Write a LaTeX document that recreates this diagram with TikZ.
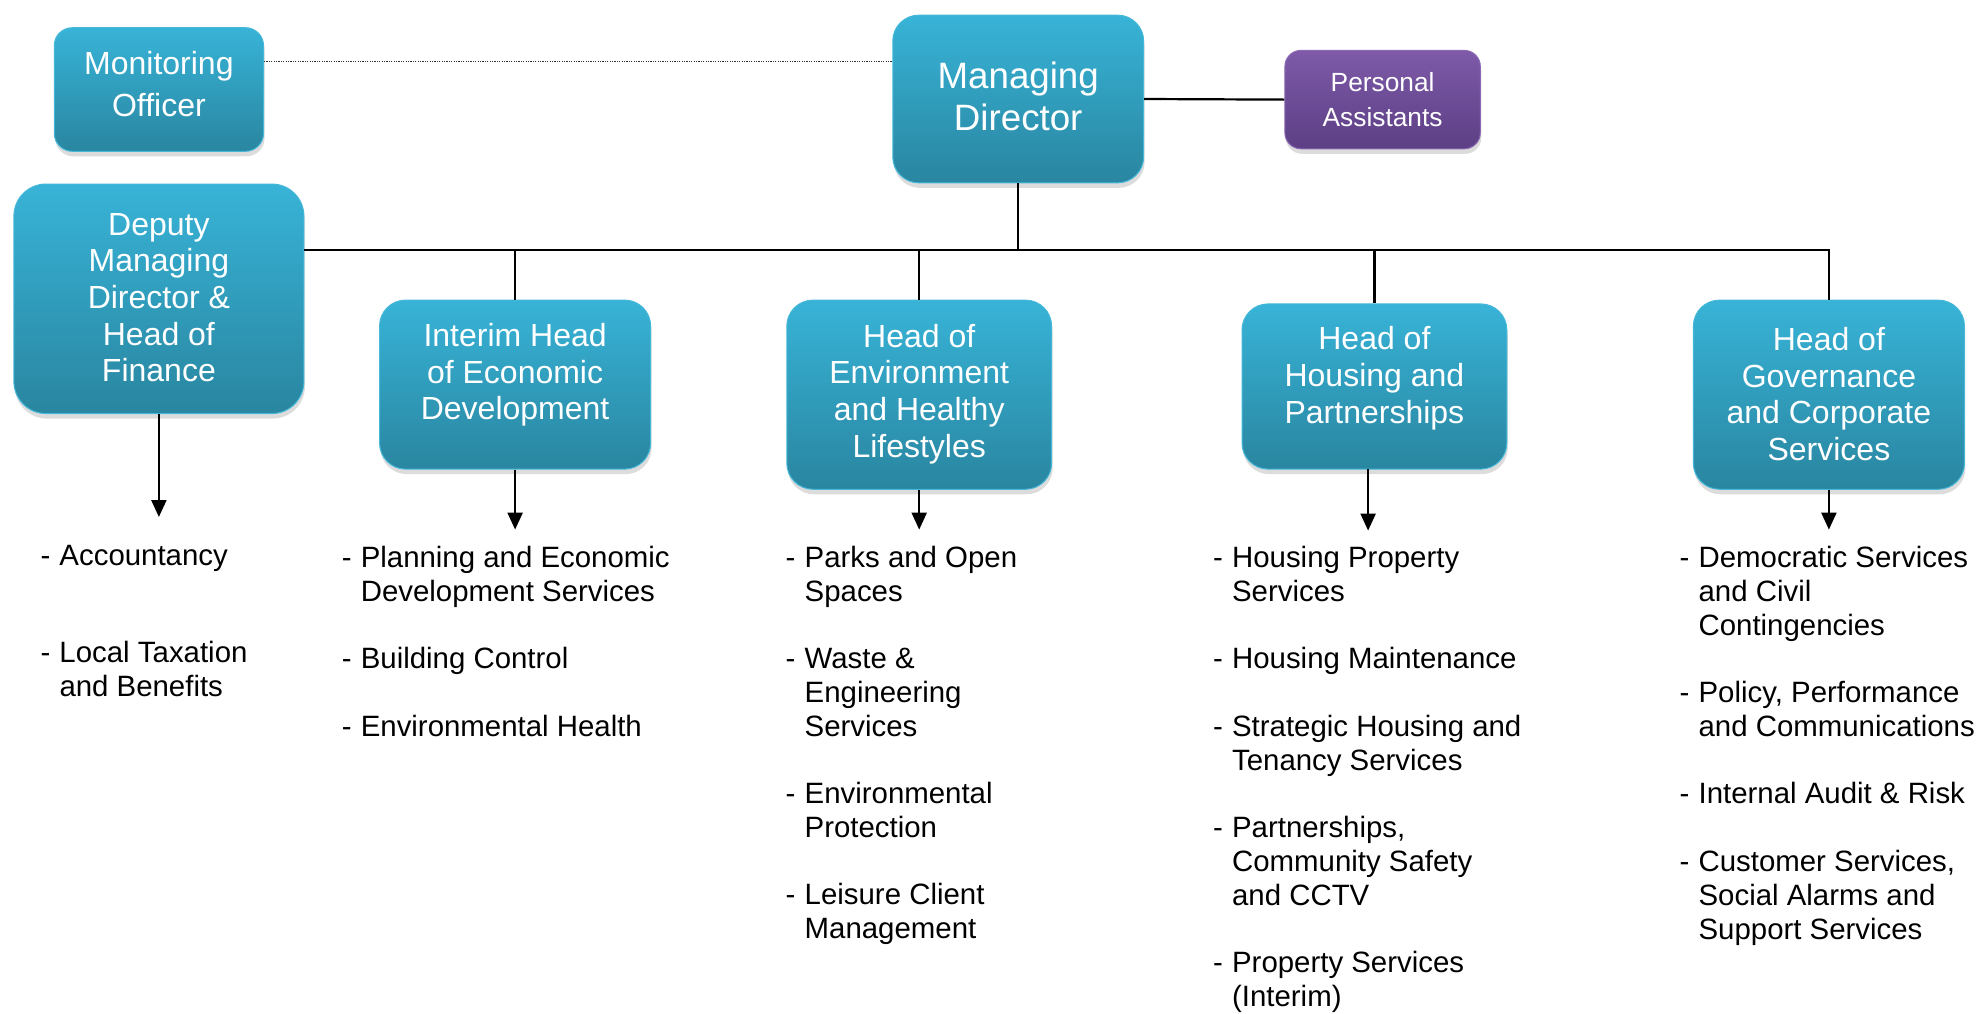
\documentclass[tikz,border=0pt]{standalone}
\usepackage{fontspec}
\setmainfont{Liberation Sans}
\usetikzlibrary{arrows.meta,shadows,calc}
\definecolor{ctop}{HTML}{38B3D7}
\definecolor{cbot}{HTML}{2986A0}
\definecolor{cedge}{HTML}{45B8DA}
\definecolor{ptop}{HTML}{7E5AA8}
\definecolor{pbot}{HTML}{5C3F85}
\definecolor{pedge}{HTML}{8A68B3}
\newcommand\lst[1]{\begin{tabular}[t]{@{}p{19pt}@{}l@{}}#1\end{tabular}}
\begin{document}
\begin{tikzpicture}[x=1pt,y=-1pt,
  box/.style={rounded corners=26pt, top color=ctop, bottom color=cbot, draw=cedge, line width=1pt,
    drop shadow={opacity=0.28, shadow xshift=1pt, shadow yshift=-5pt}, inner sep=0pt},
  pbox/.style={box, top color=ptop, bottom color=pbot, draw=pedge},
  bt/.style={text=white, align=center, inner sep=0pt, font=\fontsize{32}{36.6}\selectfont},
  li/.style={anchor=base west, inner sep=0pt, font=\fontsize{29.4}{33.7}\selectfont},
  ln/.style={line width=2.2pt, black},
  dotln/.style={line width=1.2pt, black!80, dash pattern=on 1.2pt off 1.2pt},
  arr/.style={ln, -{Triangle[width=15pt,length=17pt]}}]
\useasboundingbox (0,0) rectangle (1977,1013);

% boxes
\node[box, minimum width=209.3pt, minimum height=123.6pt, rounded corners=18pt] (mo) at (158.9,89.5) {};
\node[bt, font=\fontsize{32}{41.6}\selectfont] (mo-t) at (158.9,83.8) {Monitoring\\Officer};

\node[box, minimum width=250.9pt, minimum height=167.7pt] (md) at (1018.2,99.0) {};
\node[bt, font=\fontsize{36.7}{41.6}\selectfont] (md-t) at (1018.2,96.5) {Managing\\Director};

\node[pbox, minimum width=195.4pt, minimum height=98.4pt, rounded corners=16pt] (pa) at (1382.6,99.6) {};
\node[bt, font=\fontsize{26.3}{35.3}\selectfont] (pa-t) at (1382.6,99.6) {Personal\\Assistants};

\node[box, minimum width=290pt, minimum height=229.5pt, rounded corners=32pt] (dmd) at (158.9,298.8) {};
\node[bt] (dmd-t) at (158.9,297.6) {Deputy\\Managing\\Director \&\\Head of\\Finance};

\node[box, minimum width=271.1pt, minimum height=169pt] (ied) at (515.1,384.6) {};
\node[bt] (ied-t) at (515.1,375.1) {Interim Head\\of Economic\\Development};

\node[box, minimum width=264.8pt, minimum height=189.1pt] (env) at (919.2,394.7) {};
\node[bt] (env-t) at (919.2,394) {Head of\\Environment\\and Healthy\\Lifestyles};

\node[box, minimum width=264.8pt, minimum height=165.2pt] (hou) at (1374.4,386.5) {};
\node[bt] (hou-t) at (1374.4,378.3) {Head of\\Housing and\\Partnerships};

\node[box, minimum width=271.1pt, minimum height=189.1pt] (gov) at (1828.9,394.7) {};
\node[bt] (gov-t) at (1828.9,394) {Head of\\Governance\\and Corporate\\Services};

% connectors
\coordinate (bus) at (0,249.7);
\coordinate (dl) at (0,61.8);
\draw[dotln] (mo.east |- dl) -- (md.west |- dl);
\draw[ln] (md.east) -- (pa.west);
\draw[ln] (md.south) -- (md.south |- bus);
\draw[ln] (dmd.east |- bus) -- (gov.north |- bus) -- (gov.north);
\draw[ln] (ied.north |- bus) -- (ied.north);
\draw[ln] (env.north |- bus) -- (env.north);
\draw[ln] (hou.north |- bus) -- (hou.north);

\coordinate (a1) at (158.9,517);
\coordinate (a2) at (515.1,529.6);
\coordinate (a3) at (919.2,529.6);
\coordinate (a4s) at (1368.1,469.1);
\coordinate (a4) at (1368.1,530.6);
\coordinate (a5) at (1828.9,529.6);
\draw[arr] (dmd.south) -- (a1);
\draw[arr] (ied.south) -- (a2);
\draw[arr] (env.south) -- (a3);
\draw[arr] (a4s) -- (a4);
\draw[arr] (gov.south) -- (a5);

% lists
\node[li] (l1a) at (40.3,565.3) {\lst{-&Accountancy}};
\node[li] (l1b) at (40.3,662.4) {\lst{-&Local Taxation\\&and Benefits}};

\node[li] (l2a) at (341.6,567.8) {\lst{-&Planning and Economic\\&Development Services}};
\node[li] (l2b) at (341.6,668.7) {\lst{-&Building Control}};
\node[li] (l2c) at (341.6,736.8) {\lst{-&Environmental Health}};

\node[li] (l3a) at (785.5,567.8) {\lst{-&Parks and Open\\&Spaces}};
\node[li] (l3b) at (785.5,668.7) {\lst{-&Waste \&\\&Engineering\\&Services}};
\node[li] (l3c) at (785.5,803.6) {\lst{-&Environmental\\&Protection}};
\node[li] (l3d) at (785.5,904.5) {\lst{-&Leisure Client\\&Management}};

\node[li] (l4a) at (1212.9,567.8) {\lst{-&Housing Property\\&Services}};
\node[li] (l4b) at (1212.9,668.7) {\lst{-&Housing Maintenance}};
\node[li] (l4c) at (1212.9,736.8) {\lst{-&Strategic Housing and\\&Tenancy Services}};
\node[li] (l4d) at (1212.9,837.7) {\lst{-&Partnerships,\\&Community Safety\\&and CCTV}};
\node[li] (l4e) at (1212.9,972.6) {\lst{-&Property Services\\&(Interim)}};

\node[li] (l5a) at (1679.4,567.8) {\lst{-&Democratic Services\\&and Civil\\&Contingencies}};
\node[li] (l5b) at (1679.4,702.7) {\lst{-&Policy, Performance\\&and Communications}};
\node[li] (l5c) at (1679.4,803.6) {\lst{-&Internal Audit \& Risk}};
\node[li] (l5d) at (1679.4,871.7) {\lst{-&Customer Services,\\&Social Alarms and\\&Support Services}};
\end{tikzpicture}
\end{document}
